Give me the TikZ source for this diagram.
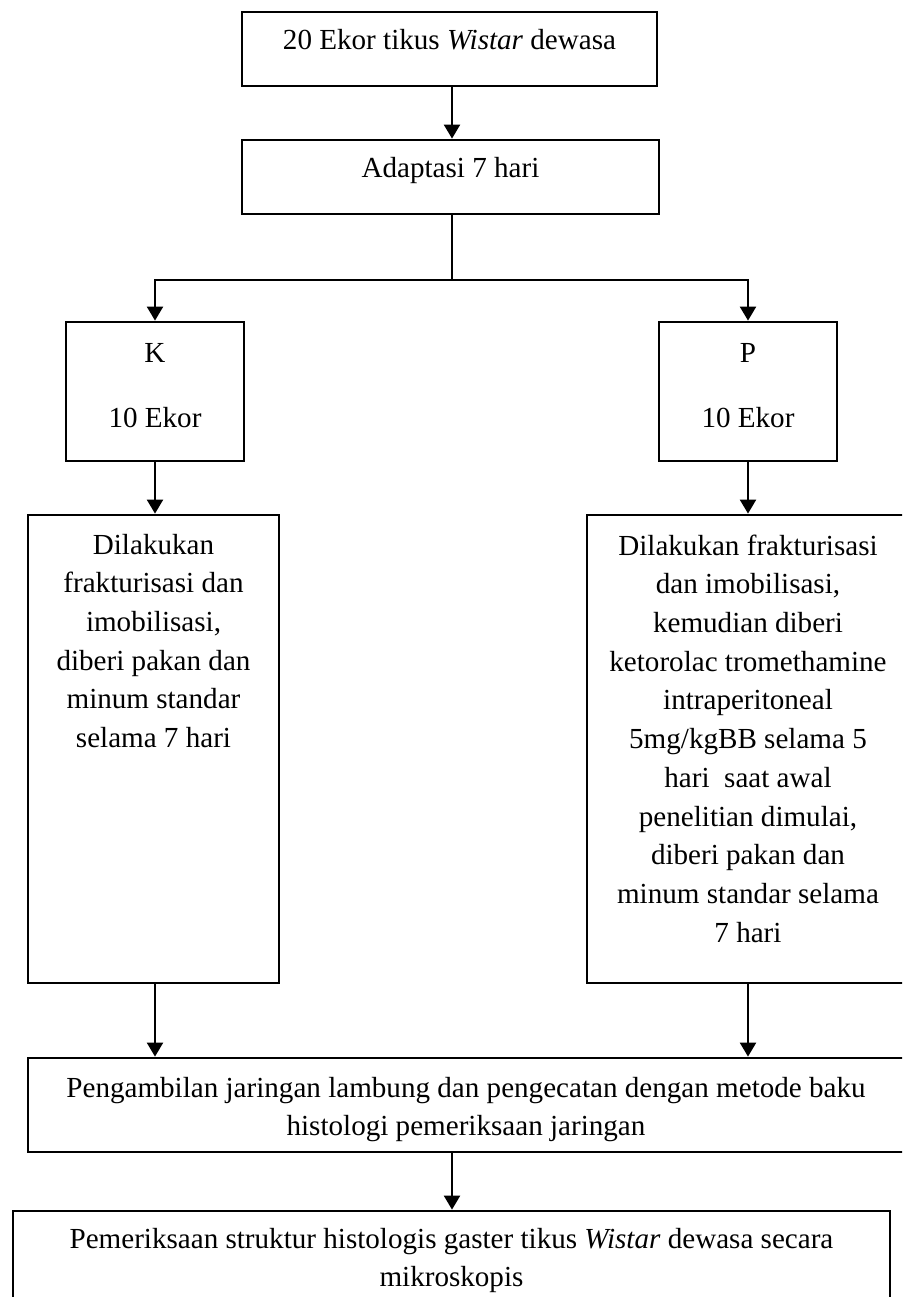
\documentclass[tikz,border=0pt]{standalone}
\usepackage{fontspec}
\setmainfont{Liberation Serif}
\usetikzlibrary{arrows.meta,calc}
\begin{document}
\begin{tikzpicture}[x=1pt,y=-1pt,
  boxn/.style={draw=black,line width=2.8pt,inner sep=0pt,fill=none},
  txt/.style={font=\fontsize{29.1pt}{38.7pt}\selectfont,align=center,inner sep=0pt},
  arr/.style={line width=2.3pt,-{Triangle[length=14pt,width=16pt]}},
  ln/.style={line width=2.3pt}]
\useasboundingbox (0,0) rectangle (902,1297);
\clip (0,0) rectangle (902,1297);
\fill[white] (0,0) rectangle (902,1297);
% boxes
\node[boxn,minimum width=415pt,minimum height=74pt] (b1) at (449.5,49) {};
\node[boxn,minimum width=417pt,minimum height=74pt] (b2) at (450.5,177) {};
\node[boxn,minimum width=178pt,minimum height=139pt] (k) at (155,391.5) {};
\node[boxn,minimum width=178pt,minimum height=139pt] (p) at (748,391.5) {};
\node[boxn,minimum width=251pt,minimum height=468pt] (k2) at (153.5,749) {};
\node[boxn,minimum width=322pt,minimum height=468pt] (p2) at (748,749) {};
\node[boxn,minimum width=876pt,minimum height=94pt] (b3) at (466,1105) {};
\node[boxn,minimum width=877pt,minimum height=140pt] (b4) at (451.5,1281) {};
% texts
\node[txt,anchor=base] (t1) at (449.5,50) {20 Ekor tikus \textit{Wistar} dewasa};
\node[txt,anchor=base] (t2) at (450.5,178) {Adaptasi 7 hari};
\node[txt,anchor=north] (tk) at (155,334.9) {\strut K\\[26.3pt]10 Ekor};
\node[txt,anchor=north] (tp) at (748,334.9) {\strut P\\[26.3pt]10 Ekor};
\node[txt,anchor=north] (tk2) at (153.5,526.9) {\strut Dilakukan\\frakturisasi dan\\imobilisasi,\\diberi pakan dan\\minum standar\\selama 7 hari};
\node[txt,anchor=north] (tp2) at (748,527.9) {\strut Dilakukan frakturisasi\\dan imobilisasi,\\kemudian diberi\\ketorolac tromethamine\\intraperitoneal\\5mg/kgBB selama 5\\hari~ saat awal\\penelitian dimulai,\\diberi pakan dan\\minum standar selama\\7 hari};
\node[txt,anchor=north] (t3) at (466,1069.9) {\strut Pengambilan jaringan lambung dan pengecatan dengan metode baku\\histologi pemeriksaan jaringan};
\node[txt,anchor=north] (t4) at (451.5,1220.9) {\strut Pemeriksaan struktur histologis gaster tikus \textit{Wistar} dewasa secara\\mikroskopis};
% connectors
\coordinate (j) at (452,280);
\draw[arr] (b1.south -| j) -- (b2.north -| j);
\draw[ln] (b2.south -| j) -- (j);
\draw[arr] (j) -| (k.north);
\draw[arr] (j) -| (p.north);
\draw[arr] (k.south) -- (k.south |- k2.north);
\draw[arr] (p.south) -- (p2.north);
\draw[arr] (k2.south -| k.south) -- (k.south |- b3.north);
\draw[arr] (p2.south) -- (p2.south |- b3.north);
\draw[arr] (b3.south -| j) -- (b4.north -| j);
\end{tikzpicture}
\end{document}
